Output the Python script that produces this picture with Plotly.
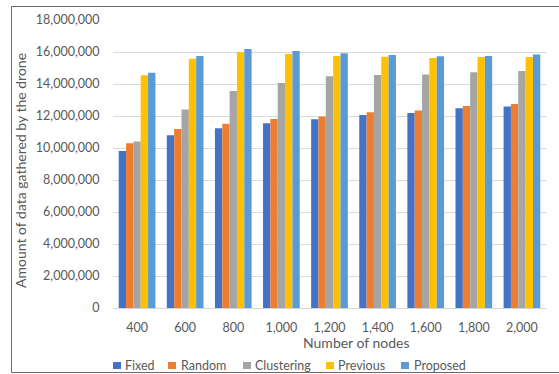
import plotly.graph_objects as go

categories = ["400", "600", "800", "1,000", "1,200", "1,400", "1,600", "1,800", "2,000"]
series_names = ["Fixed", "Random", "Clustering", "Previous", "Proposed"]
fixed = [9810000, 10790000, 11230000, 11540000, 11790000, 12060000, 12190000, 12480000, 12600000]
random_ = [10290000, 11190000, 11520000, 11810000, 11970000, 12230000, 12350000, 12630000, 12750000]
clustering = [10400000, 12400000, 13560000, 14060000, 14480000, 14560000, 14600000, 14730000, 14810000]
previous = [14540000, 15580000, 16000000, 15880000, 15750000, 15710000, 15630000, 15690000, 15690000]
proposed = [14710000, 15750000, 16190000, 16060000, 15920000, 15810000, 15730000, 15750000, 15850000]
series_values = [fixed, random_, clustering, previous, proposed]
colors = ["#4472C4", "#ED7D31", "#A5A5A5", "#FFC000", "#5B9BD5"]

W, H = 559, 374
L, R, T, B = 113, 13, 20, 66
PW, PH = W - L - R, H - T - B

def px(xp):
    return (xp - L) / PW

def py(yp):
    return (H - B - yp) / PH

FONT = "Lato"
GREY = "#595959"

fig = go.Figure()
for name, vals, col in zip(series_names, series_values, colors):
    fig.add_trace(go.Bar(x=categories, y=vals, name=name, marker=dict(color=col, line=dict(width=0))))

shapes = [
    dict(type="rect", xref="paper", yref="paper", x0=px(11.5), x1=px(570), y0=py(372.5), y1=py(6.5),
         line=dict(color="#6b6b6b", width=1), fillcolor="rgba(0,0,0,0)", layer="above"),
]
annotations = [
    dict(text="Number of nodes", xref="paper", yref="paper", x=px(356), y=py(342), xanchor="center",
         yanchor="middle", showarrow=False, font=dict(family=FONT, size=14, color=GREY)),
    dict(text="Amount of data gathered by the drone", xref="paper", yref="paper", x=px(20), y=py(171),
         xanchor="center", yanchor="middle", textangle=-90, showarrow=False,
         font=dict(family=FONT, size=14, color=GREY)),
]
sq_centers = [117, 172, 247, 330, 405]
text_starts = [123, 179, 253, 336, 412]
ly = 365.5
for name, col, cx, tx in zip(series_names, colors, sq_centers, text_starts):
    shapes.append(dict(type="rect", xref="paper", yref="paper", x0=px(cx - 4), x1=px(cx + 4),
                       y0=py(ly + 3.5), y1=py(ly - 3.5), line=dict(width=0), fillcolor=col))
    annotations.append(dict(text=name, xref="paper", yref="paper", x=px(tx), y=py(ly), xanchor="left",
                            yanchor="middle", showarrow=False, font=dict(family=FONT, size=12.5, color=GREY)))

fig.update_layout(
    width=W, height=H,
    margin=dict(l=L, r=R, t=T, b=B, pad=0),
    paper_bgcolor="white", plot_bgcolor="white",
    barmode="group", bargap=0.237, bargroupgap=0,
    showlegend=False,
    font=dict(family=FONT, size=12, color=GREY),
    shapes=shapes, annotations=annotations,
)
fig.update_xaxes(type="category", showgrid=False, showline=True, linecolor="#D9D9D9", linewidth=1,
                 ticks="outside", ticklen=8, tickcolor="rgba(0,0,0,0)",
                 tickfont=dict(family=FONT, size=12.5, color=GREY))
fig.update_yaxes(range=[0, 18000000], dtick=2000000, tickformat=",d", showgrid=True, gridcolor="#D9D9D9",
                 gridwidth=1, zeroline=False, showline=False, ticks="outside", ticklen=10,
                 tickcolor="rgba(0,0,0,0)", tickfont=dict(family=FONT, size=12.5, color=GREY))

fig.write_html("out.html", config={"displayModeBar": False},
               post_script="document.body.style.margin='0';document.body.style.overflow='hidden';")
